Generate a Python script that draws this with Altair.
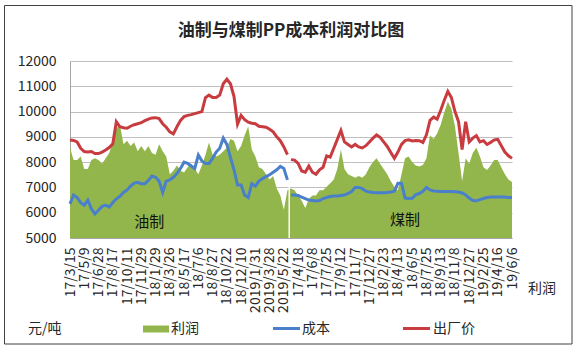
import json
import altair as alt
import pandas as pd

# ---------------- data ----------------
x_labels = ['17/3/15', '17/5/9', '17/6/28', '17/8/17', '17/10/11', '17/11/29',
            '18/1/29', '18/3/26', '18/5/17', '18/7/6', '18/8/27', '18/10/22',
            '18/12/10', '2019/1/31', '2019/3/28', '2019/5/22',
            '17/4/18', '17/6/8', '17/7/25', '17/9/12', '17/11/7', '17/12/27',
            '18/2/23', '18/4/13', '18/6/5', '18/7/25', '18/9/13', '18/11/8',
            '18/12/27', '19/2/25', '19/4/16', '19/6/6']
samples_per_label = 4

# 油制 (oil based) segment
price_oil = [8880, 8860, 8800, 8550, 8420, 8400, 8420, 8340, 8340, 8400,
             8480, 8580, 8720, 9600, 9400, 9360, 9340, 9420, 9480, 9520,
             9560, 9640, 9700, 9750, 9760, 9720, 9520, 9380, 9200, 9120,
             9400, 9650, 9800, 9850, 9880, 9920, 9960, 10000, 10550, 10650,
             10560, 10560, 10650, 11100, 11280, 11100, 10600, 9500, 9850, 9680,
             9580, 9540, 9520, 9420, 9400, 9380, 9300, 9200, 9000, 8850,
             8600, 8300]
cost_oil = [6350, 6700, 6600, 6400, 6300, 6500, 6150, 5950, 6100, 6250,
            6300, 6220, 6400, 6550, 6650, 6800, 6900, 7050, 7170, 7200,
            7150, 7150, 7280, 7450, 7400, 7250, 6800, 7250, 7300, 7400,
            7550, 7750, 8000, 7950, 7850, 7750, 8280, 8050, 7950, 7950,
            8150, 8400, 8550, 8950, 8700, 8200, 7700, 7100, 7100, 6700,
            6600, 7150, 7050, 7250, 7350, 7430, 7500, 7600, 7700, 7830,
            7750, 7300]
profit_oil = [2550, 2200, 2200, 2300, 1950, 1950, 2200, 2250, 2200, 2100,
              2250, 2400, 2700, 3100, 3200, 2650, 2750, 2600, 2700, 2450,
              2600, 2450, 2600, 2400, 2350, 2650, 2450, 2300, 1800, 1900,
              2050, 1900, 1850, 2000, 2100, 1950, 1800, 2050, 2350, 2700,
              2350, 2300, 2350, 2450, 2550, 2800, 2750, 2450, 2600, 2900,
              3150, 2500, 2300, 2000, 1950, 1800, 1650, 1750, 1400, 1200,
              800, 1350]

# 煤制 (coal based) segment
price_coal = [8100, 8080, 7950, 7650, 7600, 7850, 7600, 7520, 7700, 7800,
              8250, 8200, 8550, 8900, 9250, 8800, 8700, 8600, 8700, 8600,
              8560, 8650, 8800, 8950, 9080, 8980, 8800, 8620, 8380, 8150,
              8400, 8700, 8850, 8880, 8840, 8860, 8850, 8780, 9080, 9650,
              9780, 9700, 10050, 10450, 10800, 10550, 10000, 9600, 8500, 9600,
              8800, 8950, 9050, 8800, 8850, 8700, 8780, 8880, 8900, 8650,
              8400, 8250, 8150]
cost_coal = [6700, 6700, 6680, 6620, 6560, 6500, 6480, 6460, 6480, 6560,
             6600, 6640, 6660, 6660, 6680, 6700, 6760, 6840, 7000, 7000,
             6950, 6850, 6820, 6800, 6790, 6790, 6790, 6800, 6820, 6850,
             7170, 7170, 6580, 6560, 6570, 6720, 6760, 6850, 7000, 6900,
             6860, 6850, 6840, 6840, 6840, 6840, 6830, 6820, 6780, 6700,
             6580, 6480, 6470, 6520, 6560, 6600, 6620, 6620, 6620, 6620,
             6620, 6600, 6600]
profit_coal = [1400, 1350, 1200, 1050, 850, 1100, 1200, 1200, 1350, 1350,
               1450, 1550, 1650, 1950, 2500, 1950, 1800, 1750, 1700, 1750,
               1700, 1800, 2000, 2150, 2250, 2100, 1950, 1800, 1600, 1450,
               1350, 1800, 2250, 2300, 2150, 2050, 2020, 2060, 2250, 2900,
               2800, 2950, 3200, 3550, 3850, 3650, 3150, 2400, 1600, 2250,
               2100, 2400, 2550, 2300, 2000, 1920, 2050, 2200, 2200, 2000,
               1800, 1650, 1580]

segment_names = ['油制', '煤制']
left_ticks = [5000, 6000, 7000, 8000, 9000, 10000, 11000, 12000]
right_ticks = [0, 1000, 2000, 3000, 4000, 5000]
annot_text = ['油制', '煤制']
annot_k = [22.2, 94.0]
annot_val = [5650, 5700]

# ---------------- tables ----------------
rows = []
for i, (p, c, pr) in enumerate(zip(price_oil, cost_oil, profit_oil)):
    rows.append({'k': i, 'seg': segment_names[0], 'price': p, 'cost': c, 'profit': pr})
n_oil = len(price_oil)
for i, (p, c, pr) in enumerate(zip(price_coal, cost_coal, profit_coal)):
    rows.append({'k': n_oil + i, 'seg': segment_names[1], 'price': p, 'cost': c, 'profit': pr})
df = pd.DataFrame(rows)
n_total = len(df)

long_rows = []
for r in rows:
    long_rows.append({'k': r['k'], 'seg': r['seg'], 'series': '成本', 'val': r['cost']})
for r in rows:
    long_rows.append({'k': r['k'], 'seg': r['seg'], 'series': '出厂价', 'val': r['price']})
df_long = pd.DataFrame(long_rows)

df_gap = pd.DataFrame([{'k': n_oil - 0.5, 'top': max(profit_oil[-1], profit_coal[0]) + 50, 'bot': 0}])
df_annot = pd.DataFrame({'k': annot_k, 'val': annot_val, 't': annot_text})

GREEN = '#93B64C'
BLUE = '#4A7FCB'
RED = '#C83C40'
FONT = 'Noto Sans CJK SC'
TXT = '#262626'

label_expr = json.dumps(x_labels, ensure_ascii=False) + f'[round(datum.value/{samples_per_label})]'
x_enc = alt.X('k:Q',
              scale=alt.Scale(domain=[0, n_total - 1], nice=False, zero=False),
              axis=alt.Axis(values=list(range(0, n_total, samples_per_label)),
                            labelExpr=label_expr, labelAngle=-90, labelOverlap=False,
                            labelFontSize=14, labelFont=FONT, labelColor=TXT,
                            labelPadding=9, ticks=False, grid=False, title=None,
                            domainColor='#A6A6A6', zindex=0))

y_left = alt.Y('val:Q',
               scale=alt.Scale(domain=[5000, 12000], nice=False, zero=False),
               axis=alt.Axis(orient='left', values=left_ticks, grid=True, format='d',
                             gridColor='#BFBFBF', ticks=False, title=None,
                             labelFontSize=14, labelFont=FONT, labelColor=TXT,
                             labelPadding=14, domainColor='#A6A6A6', zindex=0))
y_right = alt.Y('profit:Q',
                scale=alt.Scale(domain=[0, 5000], nice=False),
                axis=alt.Axis(orient='right', values=right_ticks, grid=False, format='d',
                              ticks=False, title=None, labelFontSize=14,
                              labelFont=FONT, labelColor=TXT, labelPadding=13,
                              domainColor='#A6A6A6', zindex=0))

area = alt.Chart(df).mark_area(color=GREEN, opacity=1).encode(x=x_enc, y=y_right)
gap = alt.Chart(df_gap).mark_rule(color='white', strokeWidth=1.5).encode(
    x=x_enc, y=alt.Y('top:Q', scale=alt.Scale(domain=[0, 5000], nice=False), axis=None),
    y2='bot:Q')
area_group = alt.layer(area, gap)

lines = alt.Chart(df_long).mark_line(strokeWidth=3).encode(
    x=x_enc, y=y_left,
    color=alt.Color('series:N', scale=alt.Scale(domain=['成本', '出厂价'], range=[BLUE, RED]), legend=None),
    detail='seg:N')
annots = alt.Chart(df_annot).mark_text(font=FONT, fontSize=15, color='#111111').encode(
    x=x_enc, y=y_left, text='t:N')
line_group = alt.layer(lines, annots)

one = alt.Data(values=[{'a': 1}])
# plot origin is at (70, 61) in the page
def txt(s, x, y, size=14, align='left', weight='normal'):
    return alt.Chart(one).mark_text(font=FONT, fontSize=size, align=align, baseline='middle',
                                    fontWeight=weight, color=TXT).encode(
        x=alt.value(x), y=alt.value(y), text=alt.value(s))

deco = [
    alt.Chart(one).mark_rect(fill='white', fillOpacity=0, stroke='#404040', strokeWidth=1).encode(
        x=alt.value(-65.5), x2=alt.value(502), y=alt.value(-55.5), y2=alt.value(283)),
    txt('油制与煤制PP成本利润对比图', 221, -30, size=17, align='center', weight='bold'),
    txt('元/吨', -42, 268),
    txt('利润', 458, 228),
    alt.Chart(one).mark_rect(color=GREEN).encode(
        x=alt.value(73), x2=alt.value(99), y=alt.value(264.5), y2=alt.value(271.5)),
    txt('利润', 101, 268),
    alt.Chart(one).mark_rule(color=BLUE, strokeWidth=3).encode(
        x=alt.value(203), x2=alt.value(230), y=alt.value(267.5)),
    txt('成本', 232, 268),
    alt.Chart(one).mark_rule(color=RED, strokeWidth=3).encode(
        x=alt.value(333), x2=alt.value(360), y=alt.value(267.5)),
    txt('出厂价', 363, 268),
]

chart = alt.layer(area_group, line_group, *deco).resolve_scale(y='independent').properties(
    width=442, height=177,
    autosize=alt.AutoSizeParams(type='none'),
    padding={'left': 70, 'top': 61, 'right': 65, 'bottom': 113},
    background='white'
).configure_view(stroke=None)

chart.save('out.html', embed_options={'renderer': 'svg', 'actions': False})
